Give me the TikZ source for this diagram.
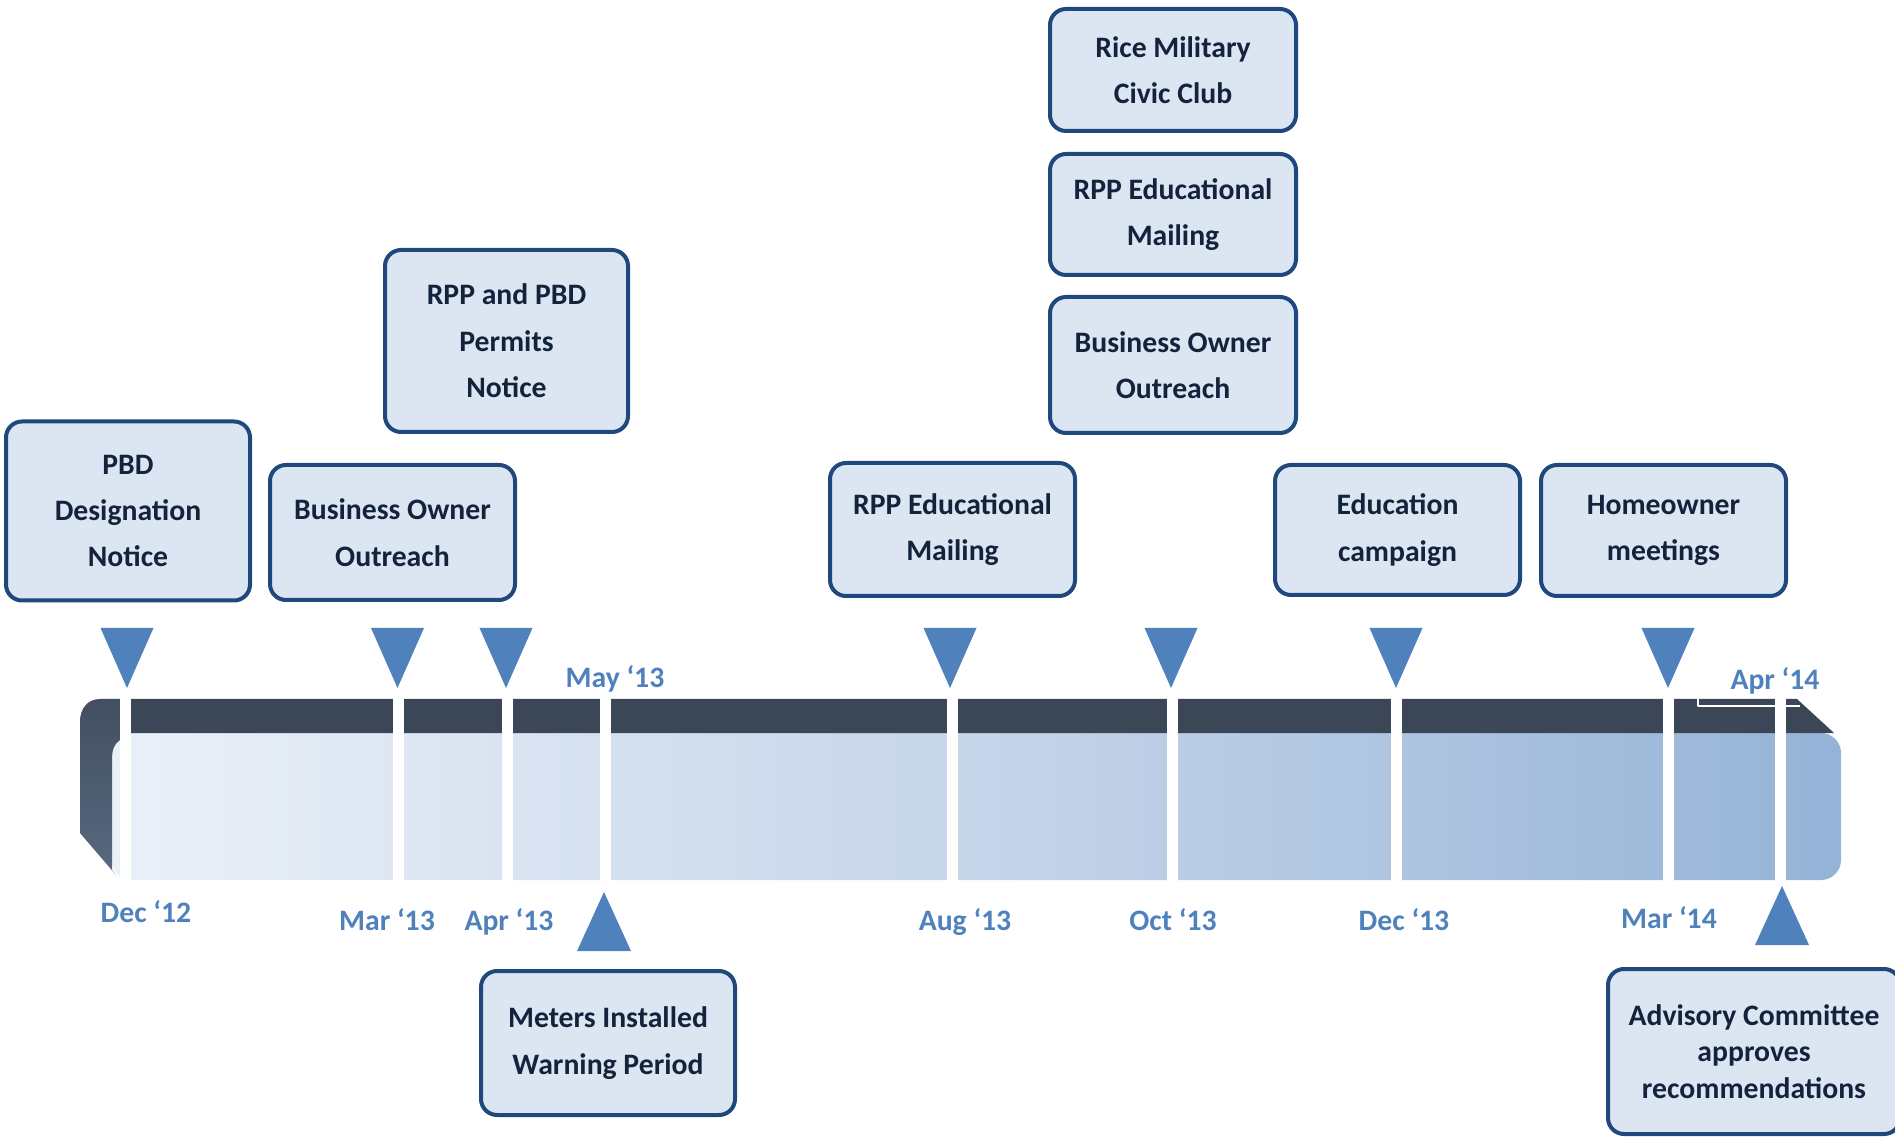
\documentclass[tikz,border=0pt]{standalone}
\usepackage{fontspec}
\setmainfont{Carlito}
\definecolor{boxfill}{HTML}{DCE6F2}
\definecolor{boxline}{HTML}{1F497D}
\definecolor{boxtext}{HTML}{14233C}
\definecolor{datecol}{HTML}{4F81BD}
\definecolor{band}{HTML}{3B4757}
\definecolor{barL}{HTML}{EAF0F8}
\definecolor{barM}{HTML}{C6D5E9}
\definecolor{barR}{HTML}{95B3D7}
\definecolor{capA}{HTML}{434F61}
\definecolor{capB}{HTML}{58697F}
\begin{document}
\begin{tikzpicture}[x=0.1mm,y=-0.1mm,line join=round,
		font=\fontsize{8.45}{13.2}\selectfont\bfseries,
		evt/.style={draw=boxline,line width=0.4mm,fill=boxfill,rounded corners=1.6mm,
			align=center,text=boxtext,inner sep=0pt},
		dt/.style={text=datecol,anchor=base,inner sep=0pt}]
				\useasboundingbox (0,0) rectangle (1895,1140);
				\def\tb{628}
				\def\tt{688}
				\def\hw{26.5}
				\shade[left color=barL,right color=barR,middle color=barM,rounded corners=2mm]
				(112,733) rectangle (1841,880);
				\fill[band] (120,699)--(1797,699)--(1834,733)--(120,733)--cycle;
				\shade[top color=capA,bottom color=capB] (80,833)--(80,722)
				.. controls (80,708) and (88,699) .. (100,699)--(120,699)--(120,740)
				.. controls (114,744) and (112,750) .. (112,760)--(112,870)--(116,875)--cycle;
				\foreach \x in {125,398,507,605.5,952,1172.5,1396.5,1668,1780}
				\fill[white] (\x-5.5,696) rectangle (\x+5.5,884);
				\draw[white,line width=0.2mm] (1698,699)|-(1800,706);
				\foreach \x in {127,397.5,506,950,1171,1396,1668}
				\fill[datecol] (\x-\hw,\tb)--(\x+\hw,\tb)--(\x,\tt)--cycle;
				\foreach \x/\y in {604/892,1782/886}
				\fill[datecol] (\x,\y)--(\x+27,\y+59)--(\x-27,\y+59)--cycle;
				\node[evt,minimum width=24.4mm,minimum height=17.9mm] (pbd) at (128,511)
				{PBD\\Designation\\Notice};
				\node[evt,minimum width=24.5mm,minimum height=13.5mm] (bo1) at (392.5,532.5)
				{Business Owner\\Outreach};
				\node[evt,minimum width=24.3mm,minimum height=18.2mm] (permits) at (506.5,341)
				{RPP and PBD\\Permits\\Notice};
				\node[evt,minimum width=24.5mm,minimum height=13.3mm] (mail1) at (952.5,529.5)
				{RPP Educational\\Mailing};
				\node[evt,minimum width=24.6mm,minimum height=12.2mm] (civic) at (1173,70)
				{Rice Military\\Civic Club};
				\node[evt,minimum width=24.6mm,minimum height=12.1mm] (mail2) at (1173,214.5)
				{RPP Educational\\Mailing};
				\node[evt,minimum width=24.6mm,minimum height=13.6mm] (bo2) at (1173,365)
				{Business Owner\\Outreach};
				\node[evt,minimum width=24.5mm,minimum height=13mm] (campaign) at (1397.5,530)
				{Education\\campaign};
				\node[evt,minimum width=24.5mm,minimum height=13.1mm] (home) at (1663.5,530.5)
				{Homeowner\\meetings};
				\node[evt,minimum width=25.4mm,minimum height=14.4mm] (meters) at (608,1043)
				{Meters Installed\\Warning Period};
				\node[evt,minimum width=29.2mm,minimum height=16.5mm,
				font=\fontsize{8.45}{10.3}\selectfont\bfseries] (advisory) at (1754,1051.5)
				{Advisory Committee\\approves\\recommendations};
				\node[dt] (dec12) at (146,922) {Dec ‘12};
				\node[dt] (mar13) at (387,930) {Mar ‘13};
				\node[dt] (apr13) at (509,930) {Apr ‘13};
				\node[dt] (may13) at (615,688) {May ‘13};
				\node[dt] (aug13) at (965,930) {Aug ‘13};
				\node[dt] (oct13) at (1173,930) {Oct ‘13};
				\node[dt] (dec13) at (1404,930) {Dec ‘13};
				\node[dt] (mar14) at (1669,928) {Mar ‘14};
				\node[dt] (apr14) at (1775,690) {Apr ‘14};
			\end{tikzpicture}
\end{document}
